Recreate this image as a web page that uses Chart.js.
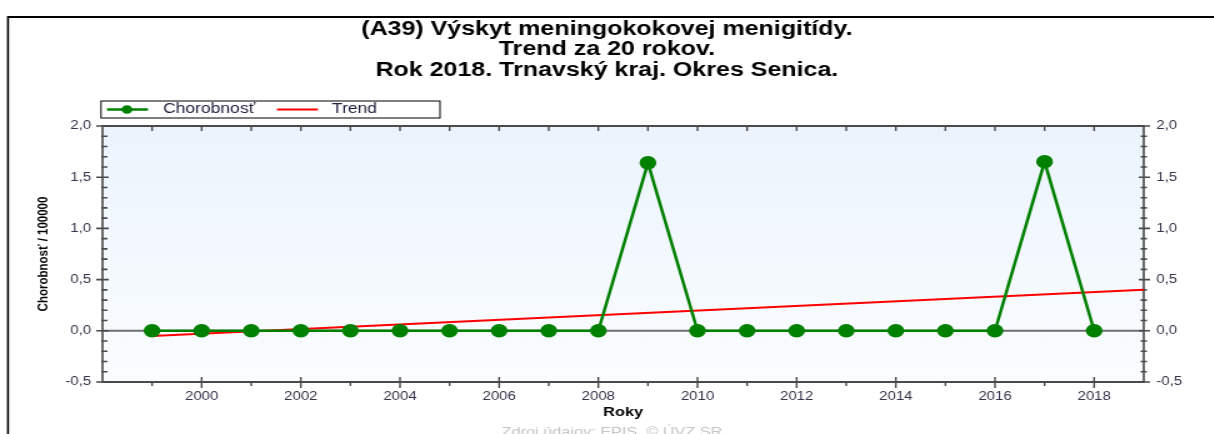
<!DOCTYPE html>
<html>
<head>
<meta charset="utf-8">
<script src="https://cdn.jsdelivr.net/npm/chart.js@4/dist/chart.umd.min.js"></script>
<style>
  html, body { margin: 0; padding: 0; background: #fff; overflow: hidden; }
  #c { display: block; transform: scaleX(1.25); transform-origin: 0 0; }
</style>
</head>
<body>
<canvas id="c" width="971" height="434"></canvas>
<script>
// ===== Data =====
const years = [1999, 2000, 2001, 2002, 2003, 2004, 2005, 2006, 2007, 2008,
               2009, 2010, 2011, 2012, 2013, 2014, 2015, 2016, 2017, 2018];
const incidence = [0, 0, 0, 0, 0, 0, 0, 0, 0, 0,
                   1.64, 0, 0, 0, 0, 0, 0, 0, 1.65, 0];
const trendYears = [1999, 2019];
const trendValues = [-0.05, 0.40];
const xTickYears = [2000, 2002, 2004, 2006, 2008, 2010, 2012, 2014, 2016, 2018];
const titleLines = ['(A39) Výskyt meningokokovej menigitídy.', 'Trend za 20 rokov.', 'Rok 2018. Trnavský kraj. Okres Senica.'];
const seriesNames = ['Chorobnosť', 'Trend'];
const yTitle = 'Chorobnosť / 100000';
const xTitle = 'Roky';
const sourceNote = 'Zdroj údajov: EPIS, © ÚVZ SR';

const FONT = "'Liberation Sans', Arial, sans-serif";
const fmt = v => v.toFixed(1).replace('.', ',');

// ===== Frame, axes, tick marks, legend =====
const frame = {
    id: 'frame',
    beforeDraw(chart) {
        const {ctx, chartArea: a} = chart;
        ctx.save();
        ctx.fillStyle = '#fff';
        ctx.fillRect(0, 0, chart.width, chart.height);
        const g = ctx.createLinearGradient(0, a.top, 0, a.bottom);
        g.addColorStop(0, '#ebf4fd');
        g.addColorStop(1, '#fbfdff');
        ctx.fillStyle = g;
        ctx.fillRect(a.left, a.top, a.right - a.left, a.bottom - a.top);
        // outer border (top + left)
        ctx.strokeStyle = '#000';
        ctx.lineWidth = 2;
        ctx.beginPath(); ctx.moveTo(6.4, 17); ctx.lineTo(chart.width, 17); ctx.stroke();
        ctx.lineWidth = 1.6;
        ctx.beginPath(); ctx.moveTo(6.4, 16); ctx.lineTo(6.4, chart.height); ctx.stroke();
        ctx.restore();
    },
    beforeDatasetsDraw(chart) {
        const {ctx, chartArea: a, scales} = chart;
        const x = scales.x, y = scales.y;
        ctx.save();
        // zero line
        ctx.strokeStyle = '#6e6e6e';
        ctx.lineWidth = 2;
        const y0 = y.getPixelForValue(0);
        ctx.beginPath(); ctx.moveTo(a.left, y0); ctx.lineTo(a.right, y0); ctx.stroke();

        ctx.strokeStyle = '#4a4a4a';
        // horizontal axis lines
        ctx.lineWidth = 2;
        ctx.beginPath();
        ctx.moveTo(a.left, a.top); ctx.lineTo(a.right, a.top);
        ctx.moveTo(a.left, a.bottom); ctx.lineTo(a.right, a.bottom);
        ctx.stroke();
        // vertical axis lines
        ctx.lineWidth = 1.6;
        ctx.beginPath();
        ctx.moveTo(a.left, a.top - 1); ctx.lineTo(a.left, a.bottom + 1);
        ctx.moveTo(a.right, a.top - 1); ctx.lineTo(a.right, a.bottom + 1);
        ctx.stroke();

        // y tick marks (major 0.5, minor 0.1)
        ctx.beginPath();
        for (let i = Math.round(y.min * 10); i <= Math.round(y.max * 10); i++) {
            const py = y.getPixelForValue(i / 10);
            if (i % 5 === 0) {
                ctx.moveTo(a.left - 5, py); ctx.lineTo(a.left + 5, py);
                ctx.moveTo(a.right - 4, py); ctx.lineTo(a.right + 5, py);
            } else {
                ctx.moveTo(a.left - 1, py); ctx.lineTo(a.left + 4, py);
                ctx.moveTo(a.right - 2.5, py); ctx.lineTo(a.right + 2.5, py);
            }
        }
        ctx.stroke();
        // x tick marks (every year)
        ctx.lineWidth = 1.4;
        ctx.beginPath();
        for (let yr = x.min + 1; yr < x.max; yr++) {
            const px = x.getPixelForValue(yr);
            ctx.moveTo(px, a.top); ctx.lineTo(px, a.top + 5);
            if (yr % 2 === 0) { ctx.moveTo(px, a.bottom - 5); ctx.lineTo(px, a.bottom + 6); }
            else { ctx.moveTo(px, a.bottom - 1); ctx.lineTo(px, a.bottom + 4); }
        }
        ctx.stroke();
        ctx.restore();
    },
    afterDraw(chart) {
        const {ctx} = chart;
        const ds = chart.data.datasets;
        ctx.save();
        // legend box
        ctx.fillStyle = '#fff';
        ctx.fillRect(80.8, 101, 271.2, 17);
        ctx.strokeStyle = '#000';
        ctx.lineWidth = 1;
        ctx.strokeRect(80.8, 101, 271.2, 17);
        const ly = 109.5;
        ctx.lineWidth = 2.6;
        ctx.strokeStyle = ds[0].borderColor;
        ctx.beginPath(); ctx.moveTo(85.6, ly); ctx.lineTo(118.4, ly); ctx.stroke();
        ctx.fillStyle = ds[0].pointBackgroundColor;
        ctx.beginPath(); ctx.arc(101.6, ly, 4.3, 0, Math.PI * 2); ctx.fill();
        ctx.lineWidth = 2;
        ctx.strokeStyle = ds[1].borderColor;
        ctx.beginPath(); ctx.moveTo(221.6, ly); ctx.lineTo(254.4, ly); ctx.stroke();
        ctx.fillStyle = '#1e1e3c';
        ctx.font = '14px ' + FONT;
        ctx.textBaseline = 'middle';
        ctx.fillText(ds[0].label, 130.4, ly);
        ctx.fillText(ds[1].label, 265.6, ly);
        // source note
        ctx.fillStyle = '#c4c4c4';
        ctx.font = '13px ' + FONT;
        ctx.textAlign = 'center';
        ctx.fillText(sourceNote, 489.6, 432);
        ctx.restore();
    }
};

// ===== Chart =====
const ctx = document.getElementById('c').getContext('2d');
const chart = new Chart(ctx, {
    type: 'line',
    data: {
        datasets: [{
            label: seriesNames[0],
            data: years.map((yr, i) => ({x: yr, y: incidence[i]})),
            borderColor: '#008000',
            backgroundColor: '#008000',
            pointBackgroundColor: '#008000',
            pointBorderColor: '#008000',
            borderWidth: 2.5,
            pointRadius: 5.5,
            tension: 0
        }, {
            label: seriesNames[1],
            data: trendYears.map((yr, i) => ({x: yr, y: trendValues[i]})),
            borderColor: '#ff0000',
            backgroundColor: '#ff0000',
            pointBackgroundColor: '#ff0000',
            borderWidth: 2,
            pointRadius: 0,
            tension: 0
        }]
    },
    options: {
        responsive: false,
        animation: false,
        events: [],
        layout: {padding: 0},
        plugins: {
            legend: {display: false},
            tooltip: {enabled: false},
            title: {
                display: true,
                text: titleLines,
                color: '#000',
                font: {family: FONT, size: 20, weight: 'bold', lineHeight: 1.025},
                padding: {top: 19, bottom: 45.5}
            }
        },
        scales: {
            x: {
                type: 'linear',
                position: 'bottom',
                min: 1998, max: 2019,
                afterFit: s => { s.height = 52; },
                afterBuildTicks: s => { s.ticks = xTickYears.map(v => ({value: v})); },
                grid: {display: false, drawTicks: false},
                border: {display: false},
                ticks: {
                    autoSkip: false, maxRotation: 0, padding: 7,
                    color: '#33334a', font: {family: FONT, size: 12},
                    callback: v => String(v)
                },
                title: {
                    display: true, text: xTitle, color: '#000',
                    font: {family: FONT, size: 13, weight: 'bold'},
                    padding: {top: 0, bottom: 14}
                }
            },
            y: {
                position: 'left',
                min: -0.5, max: 2.0,
                afterFit: s => { s.width = 82; },
                grid: {display: false, drawTicks: false},
                border: {display: false},
                ticks: {stepSize: 0.5, padding: 9, color: '#33334a', font: {family: FONT, size: 12}, callback: v => fmt(v)},
                title: {
                    display: true, text: yTitle, color: '#000',
                    font: {family: FONT, size: 11.5, weight: 'bold'},
                    padding: {top: 28, bottom: 0}
                }
            },
            y2: {
                position: 'right',
                min: -0.5, max: 2.0,
                afterFit: s => { s.width = 56; },
                grid: {display: false, drawTicks: false},
                border: {display: false},
                ticks: {stepSize: 0.5, padding: 10, color: '#33334a', font: {family: FONT, size: 12}, callback: v => fmt(v)}
            }
        }
    },
    plugins: [frame]
});
</script>
</body>
</html>
